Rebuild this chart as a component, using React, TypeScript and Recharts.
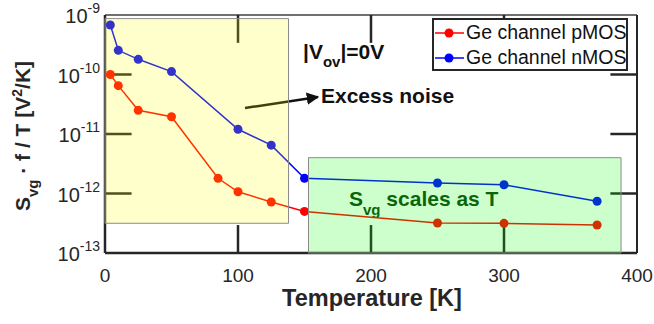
import { LineChart, Line, XAxis, YAxis, ReferenceArea, ReferenceLine, Legend } from 'recharts';

const seriesNames = ['Ge channel pMOS', 'Ge channel nMOS'];
const pTemps = [4, 10, 25, 50, 85, 100, 125, 150, 250, 300, 370];
const pNoise = [1.0e-10, 6.5e-11, 2.5e-11, 1.95e-11, 1.8e-12, 1.07e-12, 7.2e-13, 5.0e-13, 3.2e-13, 3.15e-13, 2.95e-13];
const nTemps = [4, 10, 25, 50, 100, 125, 150, 250, 300, 370];
const nNoise = [6.8e-10, 2.55e-10, 1.8e-10, 1.12e-10, 1.2e-11, 6.5e-12, 1.8e-12, 1.5e-12, 1.4e-12, 7.4e-13];

const xTicks = [0, 100, 200, 300, 400];
const yTicks = [1e-13, 1e-12, 1e-11, 1e-10, 1e-9];
const innerXTicks = [100, 200, 300];
const innerYTicks = [1e-12, 1e-11, 1e-10];

const pData = pTemps.map((t, i) => ({ t, v: pNoise[i] }));
const nData = nTemps.map((t, i) => ({ t, v: nNoise[i] }));

const FONT = '"Liberation Sans", Arial, sans-serif';
const INK = '#262626';

const YTick = ({ x, y, payload }: any) => {
    const exp = Math.round(Math.log10(payload.value));
    return (
        <text x={x - 5} y={y + 8} textAnchor="end" fill={INK} fontSize={20} fontFamily={FONT}>
            10<tspan dy={-10} fontSize={14}>{exp}</tspan>
        </text>
    );
};

const XTick = ({ x, y, payload }: any) => (
    <text x={x} y={y + 29} textAnchor="middle" fill={INK} fontSize={19} fontFamily={FONT}>
        {payload.value}
    </text>
);

const LegendBox = ({ payload }: any) => {
    const items = [...(payload || [])].sort((a: any, b: any) => seriesNames.indexOf(a.value) - seriesNames.indexOf(b.value));
    return (
        <div style={{ border: `2px solid ${INK}`, background: '#fff', width: 192, height: 49, fontFamily: FONT, fontSize: 19.5, color: '#111' }}>
            {items.map((e: any, i: number) => (
                <div key={i} style={{ display: 'flex', alignItems: 'center', height: 25 }}>
                    <svg width={31} height={12} style={{ flex: 'none' }}>
                        <line x1={1} y1={6} x2={30} y2={6} stroke={e.color} strokeWidth={1.5} />
                        <circle cx={15} cy={6} r={4.5} fill={e.color} />
                    </svg>
                    <span style={{ marginLeft: 1, whiteSpace: 'nowrap' }}>{e.value}</span>
                </div>
            ))}
        </div>
    );
};

export default function App() {
    return (
        <div style={{ position: 'absolute', left: 0, top: 0, width: 654, height: 324, background: '#fff' }}>
            <LineChart width={654} height={324} margin={{ top: 15, right: 17, left: 0, bottom: 0 }}>
                <defs>
                    <marker id="arrowHead" viewBox="0 0 10 10" refX="9" refY="5" markerWidth="5" markerHeight="5" orient="auto">
                        <path d="M0,0 L10,5 L0,10 z" fill="#111" />
                    </marker>
                </defs>
                <XAxis dataKey="t" type="number" domain={[0, 400]} ticks={xTicks} height={71}
                    tickLine={false} tickSize={0} tickMargin={0} tick={<XTick />}
                    axisLine={{ stroke: INK, strokeWidth: 2.5 }} allowDataOverflow />
                <YAxis dataKey="v" scale="log" domain={[1e-13, 1e-9]} ticks={yTicks} width={105}
                    tickLine={false} tickSize={0} tickMargin={0} tick={<YTick />}
                    axisLine={{ stroke: INK, strokeWidth: 2.5 }} allowDataOverflow />

                {/* box top and right edges */}
                <ReferenceLine y={1e-9} stroke="#404040" strokeWidth={1.5} />
                <ReferenceLine x={400} stroke={INK} strokeWidth={2} />

                {/* inward ticks, MATLAB style */}
                {innerYTicks.map((v) => (
                    <ReferenceLine key={'l' + v} segment={[{ x: 0, y: v }, { x: 20, y: v }]} stroke={INK} strokeWidth={2.5} />
                ))}
                {innerYTicks.map((v) => (
                    <ReferenceLine key={'r' + v} segment={[{ x: 380, y: v }, { x: 400, y: v }]} stroke={INK} strokeWidth={2.5} />
                ))}
                {innerXTicks.map((t) => (
                    <ReferenceLine key={'b' + t} segment={[{ x: t, y: 1e-13 }, { x: t, y: 2.95e-13 }]} stroke={INK} strokeWidth={2.5} />
                ))}
                {innerXTicks.map((t) => (
                    <ReferenceLine key={'t' + t} segment={[{ x: t, y: 1e-9 }, { x: t, y: 3.4e-10 }]} stroke={INK} strokeWidth={2.5} />
                ))}

                <Line data={pData} dataKey="v" name={seriesNames[0]} stroke="#ff0000" strokeWidth={1.5}
                    dot={{ r: 4.5, fill: '#ff0000', stroke: '#ff0000', strokeWidth: 0 }} isAnimationActive={false} />
                <Line data={nData} dataKey="v" name={seriesNames[1]} stroke="#0000ff" strokeWidth={1.5}
                    dot={{ r: 4.5, fill: '#0000ff', stroke: '#0000ff', strokeWidth: 0 }} isAnimationActive={false} />

                {/* shaded regions sit over the data, semi-transparent */}
                <ReferenceArea x1={0} x2={138} y1={3.16e-13} y2={8.7e-10} fill="#ffff00" fillOpacity={0.2}
                    stroke="#8a8a8a" strokeWidth={1} zIndex={1000} />
                <ReferenceArea x1={153} x2={388} y1={1e-13} y2={4e-12} fill="#00ff00" fillOpacity={0.2}
                    stroke="#8a8a8a" strokeWidth={1} zIndex={1000} />

                <Legend layout="vertical" align="center" verticalAlign="middle" content={<LegendBox />}
                    wrapperStyle={{ position: 'absolute', left: 432, top: 18, width: 196, height: 53 }} />

                {/* annotations */}
                <text x={303} y={59} fontFamily={FONT} fontSize={21} fontWeight="bold" fill="#111">
                    |V<tspan dy={8} fontSize={15}>ov</tspan><tspan dy={-8}>|=0V</tspan>
                </text>
                <line x1={245} y1={108} x2={318} y2={97} stroke="#111" strokeWidth={2.5} markerEnd="url(#arrowHead)" />
                <text x={321} y={103} fontFamily={FONT} fontSize={21} fontWeight="bold" fill="#111">Excess noise</text>
                <text x={349} y={206} fontFamily={FONT} fontSize={21} fontWeight="bold" fill="#0d3f0d">
                    S<tspan dy={9} fontSize={15}>vg</tspan><tspan dy={-9}> scales as T</tspan>
                </text>

                {/* axis titles */}
                <text x={372} y={306} textAnchor="middle" fontFamily={FONT} fontSize={23.5} fontWeight="bold" fill={INK}>
                    Temperature [K]
                </text>
                <text transform="translate(30,136) rotate(-90)" textAnchor="middle" fontFamily={FONT} fontSize={21} fontWeight="bold" fill={INK}>
                    S<tspan dy={8} fontSize={15}>vg</tspan><tspan dy={-8}> · f / T [V</tspan><tspan dy={-8} fontSize={14}>2</tspan><tspan dy={8}>/K]</tspan>
                </text>
            </LineChart>
        </div>
    );
}
